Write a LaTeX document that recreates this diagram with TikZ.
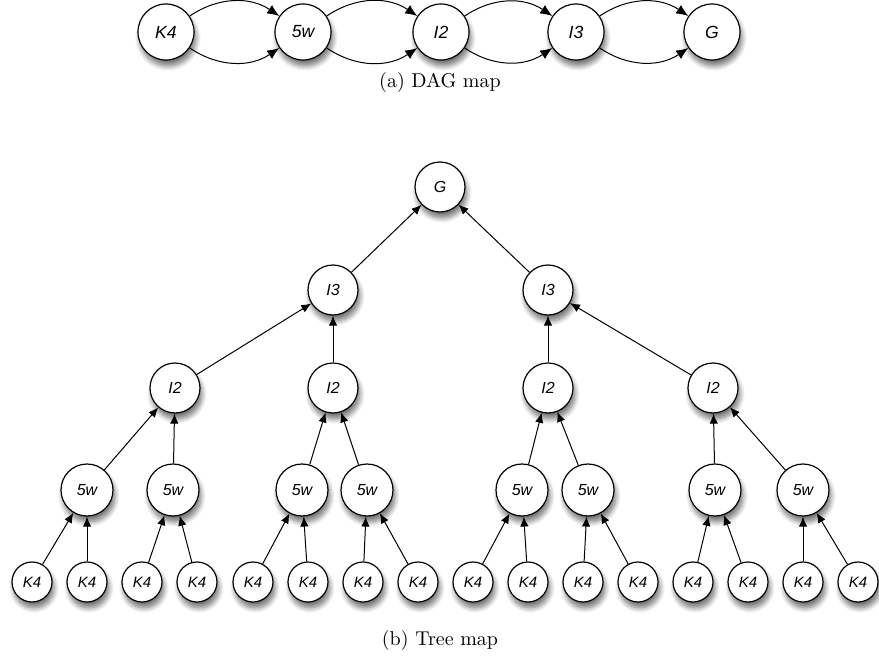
\documentclass[tikz,border=0pt]{standalone}
\usepackage{fontspec}
\newfontfamily\mapfont{Liberation Sans}
\usetikzlibrary{arrows.meta,shadows.blur}

\tikzset{
  state/.style={circle,draw,fill=white,line width=0.6pt,inner sep=0pt,
    font=\mapfont\itshape\footnotesize,
    blur shadow={shadow xshift=1pt,shadow yshift=-3pt,shadow blur radius=2.5pt,shadow blur steps=8,shadow opacity=55}},
  big/.style={state,minimum size=28pt,font=\mapfont\itshape\fontsize{8.8}{10}\selectfont},
  mid/.style={state,minimum size=25pt},
  leaf/.style={state,minimum size=20pt,font=\mapfont\itshape\fontsize{7.5}{8}\selectfont},
  caption/.style={font=\normalsize}
}

\begin{document}
\begin{tikzpicture}[x=0.5pt,y=0.5pt,>={Latex[length=5pt,width=4.2pt]},line width=0.5pt]
	\useasboundingbox (0,0) rectangle (879,666);
	% DAG map
	\node[big] (dk4) at (166,634) {K4};
	\node[big] (d5w) at (303,634) {5w};
	\node[big] (di2) at (441,634) {I2};
	\node[big] (di3) at (576,634) {I3};
	\node[big] (dg)  at (712,634) {G};
	\foreach \a/\b in {dk4/d5w,d5w/di2,di2/di3,di3/dg}{
		\draw[-{Latex[length=6pt,width=5pt]}] (\a) to[bend left=34] (\b);
		\draw[-{Latex[length=6pt,width=5pt]}] (\a) to[bend right=34] (\b);
	}
	\node[caption] (capa) at (440,584) {(a) DAG map};

	% tree map
	\node[mid] (g) at (440,479) {G};
	\node[mid] (i3a) at (333,376) {I3};
	\node[mid] (i3b) at (548,376) {I3};
	\foreach \x [count=\i] in {175,333,548,713}
		\node[mid] (i2\i) at (\x,278) {I2};
	\foreach \x [count=\i] in {87,173,302,367,522,588,715,803}
		\node[mid,minimum size=26pt] (w\i) at (\x,176) {5w};
	\foreach \x [count=\i] in {32,87,142,197,253,308,363,418,473,528,583,638,693,748,803,858}
		\node[leaf] (k\i) at (\x,84) {K4};

	\draw[->] (i3a)--(g);
	\draw[->] (i3b)--(g);
	\draw[->] (i21)--(i3a);
	\draw[->] (i22)--(i3a);
	\draw[->] (i23)--(i3b);
	\draw[->] (i24)--(i3b);
	\foreach \c/\p in {1/1,2/1,3/2,4/2,5/3,6/3,7/4,8/4}
		\draw[->] (w\c)--(i2\p);
	\foreach \c [evaluate=\c as \p using {int((\c+1)/2)}] in {1,...,16}
		\draw[->] (k\c)--(w\p);
	\node[caption] (capb) at (440,26) {(b) Tree map};
\end{tikzpicture}
\end{document}
